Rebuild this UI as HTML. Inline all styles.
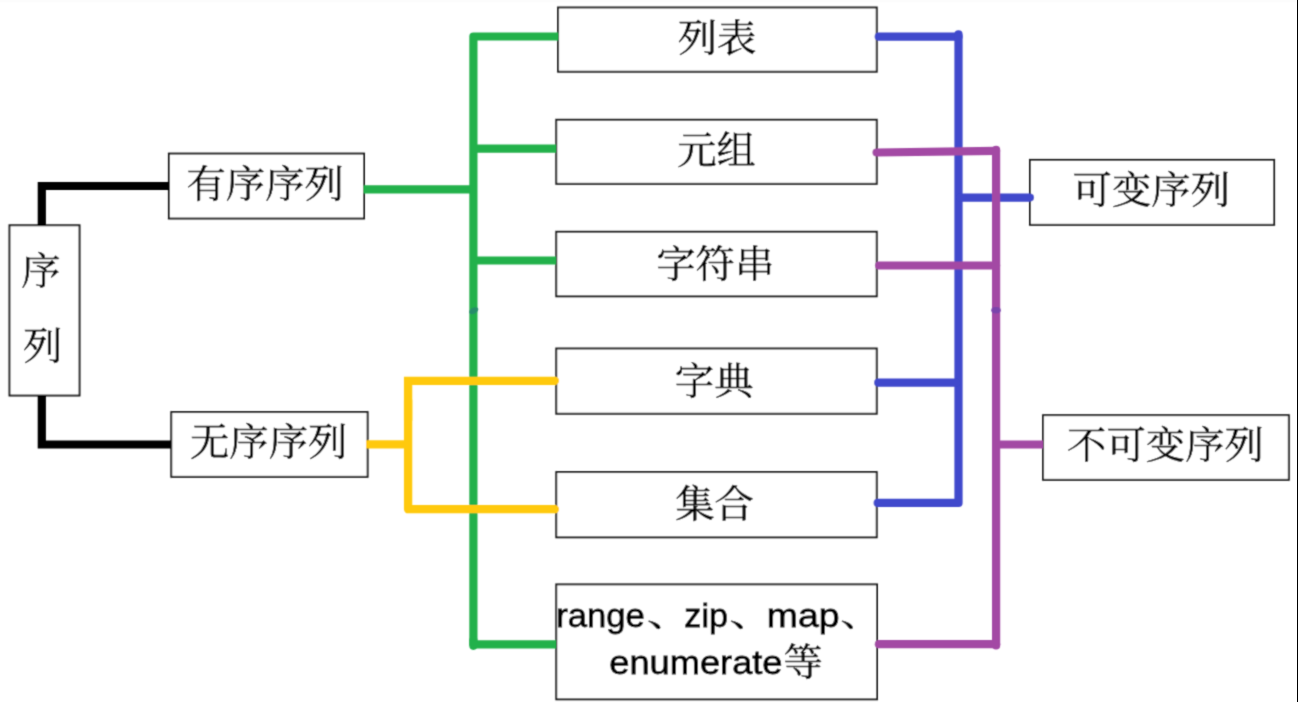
<!DOCTYPE html>
<html lang="zh-CN">
<head>
<meta charset="utf-8">
<title>序列</title>
<style>
html,body{margin:0;padding:0;background:#fff;}
body{width:1298px;height:702px;position:relative;overflow:hidden;}
svg{position:absolute;left:0;top:0;display:block;}
text{font-family:"Liberation Serif","Noto Serif CJK SC",serif;font-size:39px;fill:#000;stroke:#000;stroke-width:0.45px;}
text.lat{font-family:"Liberation Sans","Noto Serif CJK SC",sans-serif;font-size:33.8px;stroke-width:0.8px;}
</style>
</head>
<body>
<svg width="1298" height="702" viewBox="0 0 1298 702">
<rect x="0" y="0" width="1298" height="702" fill="#ffffff"/>
<rect x="0" y="0" width="1296" height="2.4" fill="#fcfcfc"/>
<rect x="1297" y="0" width="1" height="702" fill="#000"/>
<defs><filter id="soft" filterUnits="userSpaceOnUse" x="0" y="0" width="1297" height="702"><feConvolveMatrix order="3" kernelMatrix="0.0278 0.1111 0.0278 0.1111 0.4444 0.1111 0.0278 0.1111 0.0278" edgeMode="duplicate"/></filter></defs>
<g transform="translate(0 0.3)" filter="url(#soft)">

<g fill="#fff" stroke="#1e1e1e" stroke-width="1.95">
<rect x="9.47" y="224.97" width="70.05" height="170.25"/>
<rect x="168.88" y="153.28" width="195.15" height="64.95"/>
<rect x="171.28" y="411.78" width="196.35" height="64.75"/>
<rect x="558.08" y="7.17" width="318.65" height="64.25"/>
<rect x="556.27" y="119.47" width="320.45" height="64.05"/>
<rect x="556.27" y="231.47" width="320.45" height="64.55"/>
<rect x="556.27" y="348.18" width="320.45" height="65.25"/>
<rect x="556.27" y="471.78" width="320.45" height="65.25"/>
<rect x="556.27" y="584.08" width="320.75" height="114.95"/>
<rect x="1029.97" y="159.57" width="244.15" height="64.95"/>
<rect x="1043.07" y="414.88" width="245.75" height="64.65"/>
</g>
<g>
<text class="cjk" transform="translate(21.23 284.01) scale(1.0100 0.9700)">序</text>
<text class="cjk" transform="translate(22.99 358.97) scale(1.0100 0.9700)">列</text>
<text class="cjk" transform="translate(186.40 196.96) scale(1.0100 0.9700)">有序序列</text>
<text class="cjk" transform="translate(189.98 454.81) scale(1.0100 0.9700)">无序序列</text>
<text class="cjk" transform="translate(677.66 50.39) scale(1.0100 0.9700)">列表</text>
<text class="cjk" transform="translate(677.21 162.69) scale(1.0100 0.9700)">元组</text>
<text class="cjk" transform="translate(656.17 276.21) scale(1.0100 0.9700)">字符串</text>
<text class="cjk" transform="translate(674.86 393.91) scale(1.0100 0.9700)">字典</text>
<text class="cjk" transform="translate(675.21 517.03) scale(1.0100 0.9700)">集合</text>
<text class="lat" transform="translate(556.20 626.70) scale(1.0236 1.0000)">range</text>
<text class="cjk" transform="translate(646.82 625.24) scale(1.1897 0.8500)">、</text>
<text class="lat" transform="translate(684.34 626.70) scale(1.0099 1.0000)">zip</text>
<text class="cjk" transform="translate(729.23 625.24) scale(1.1795 0.8500)">、</text>
<text class="lat" transform="translate(766.81 626.70) scale(1.1065 1.0000)">map</text>
<text class="cjk" transform="translate(840.15 625.24) scale(1.0974 0.8500)">、</text>
<text class="lat" transform="translate(609.29 673.90) scale(1.0726 1.0000)">enumerate</text>
<text class="cjk" transform="translate(783.56 674.41) scale(1.0100 0.9700)">等</text>
<text class="cjk" transform="translate(1072.60 203.18) scale(1.0100 0.9700)">可变序列</text>
<text class="cjk" transform="translate(1067.03 458.08) scale(1.0100 0.9700)">不可变序列</text>
</g>

<g fill="none" stroke-linecap="round" stroke-linejoin="round">
  <g stroke="#000" stroke-width="8.2" stroke-linecap="butt" stroke-linejoin="miter">
    <path d="M169.5 185.7 H41.8 V225"/>
    <path d="M41.8 395.5 V444.2 H171"/>
  </g>
  <g stroke="#22b14c" stroke-width="8.2">
    <path d="M558.6 36.2 H473.4 V645.5" stroke-linecap="butt"/>
    <path d="M473.4 640 V645.5"/>
    <path d="M473.4 644 H556.3" stroke-linecap="butt"/>
    <path d="M363.2 189 H473.4" stroke-linecap="butt"/>
    <path d="M473.4 148.4 H556.3" stroke-linecap="butt"/>
    <path d="M473.4 260.2 H556.3" stroke-linecap="butt"/>
  </g>
  <ellipse cx="473.7" cy="310.4" rx="5" ry="3" transform="rotate(-28 473.7 310.4)" fill="#288a6e" opacity="0.92"/>
  <g stroke="#3f48cc" stroke-width="8.2">
    <path d="M878.7 36.4 H958.5"/>
    <path d="M958.5 34 V502.6 H877.6"/>
    <path d="M878.2 382.4 H956"/>
    <path d="M960 197.3 H1030"/>
  </g>
  <g stroke="#ffc90e" stroke-width="8.3">
    <path d="M555 380.5 H408.1 V420" stroke-linejoin="miter"/>
    <path d="M408.1 400 V508.9 H555"/>
    <path d="M366 444.1 H408.1" stroke-linecap="butt"/>
  </g>
  <g stroke="#a349a4" stroke-width="8.2">
    <path d="M876.5 152.2 L996.1 150.6"/>
    <path d="M996.1 149.6 V645.2"/>
    <path d="M878.8 643.9 H996.1"/>
    <path d="M879 265.2 H996.1"/>
    <path d="M996.1 444.2 H1043.2" stroke-linecap="butt"/>
  </g>
  <ellipse cx="996" cy="310" rx="4.8" ry="3.3" fill="#7846ac" opacity="0.95"/>
</g>
</g>
</svg>
</body>
</html>
